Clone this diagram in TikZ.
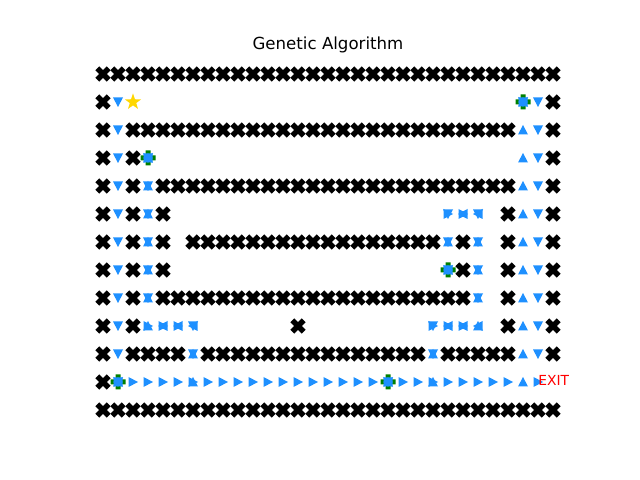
\documentclass[tikz,border=0pt]{standalone}
\usepackage{fontspec}
\setmainfont{DejaVu Sans}
\definecolor{mblue}{HTML}{1E90FF}
\definecolor{mgreen}{HTML}{008000}
\definecolor{mgold}{HTML}{FFD700}
\tikzset{
  wall/.pic={\fill[black,scale=3.8] (-1,-2)--(0,-1)--(1,-2)--(2,-1)--(1,0)--(2,1)--(1,2)--(0,1)--(-1,2)--(-2,1)--(-1,0)--(-2,-1)--cycle;},
  up/.pic={\fill[mblue] (0,-5)--(5,4.5)--(-5,4.5)--cycle;},
  dn/.pic={\fill[mblue] (0,5)--(5,-4.5)--(-5,-4.5)--cycle;},
  rt/.pic={\fill[mblue] (5,0)--(-4.5,-5)--(-4.5,5)--cycle;},
  lf/.pic={\fill[mblue] (-5,0)--(4.5,-5)--(4.5,5)--cycle;},
  gplus/.pic={\fill[mgreen,scale=2.5] (-1,-3)--(1,-3)--(1,-1)--(3,-1)--(3,1)--(1,1)--(1,3)--(-1,3)--(-1,1)--(-3,1)--(-3,-1)--(-1,-1)--cycle;
    \pic{up}; \pic{dn}; \pic{lf}; \pic{rt};},
  gstar/.pic={\fill[mgold,yscale=-1] (90:8.5)--(126:3.4)--(162:8.5)--(198:3.4)--(234:8.5)--(270:3.4)--(306:8.5)--(342:3.4)--(18:8.5)--(54:3.4)--cycle;},
  title/.style={font=\fontsize{12}{14}\selectfont, anchor=base, inner sep=0pt},
  exitlbl/.style={font=\fontsize{10}{12}\selectfont, text=red, anchor=base west, inner sep=0pt}
}
\begin{document}
\begin{tikzpicture}[x=0.01in,y=-0.01in]
\useasboundingbox (0,0) rectangle (640,480);
\node[title] (t) at (328,49.3) {Genetic Algorithm};
% walls
\foreach \r/\a/\b in {0/0/30, 1/0/0, 1/30/30, 2/0/0, 2/2/27, 2/30/30, 3/0/0, 3/2/2, 3/30/30,
  4/0/0, 4/2/2, 4/4/27, 4/30/30, 5/0/0, 5/2/2, 5/4/4, 5/27/27, 5/30/30,
  6/0/0, 6/2/2, 6/4/4, 6/6/22, 6/24/24, 6/27/27, 6/30/30,
  7/0/0, 7/2/2, 7/4/4, 7/24/24, 7/27/27, 7/30/30,
  8/0/0, 8/2/2, 8/4/24, 8/27/27, 8/30/30,
  9/0/0, 9/2/2, 9/13/13, 9/27/27, 9/30/30,
  10/0/0, 10/2/5, 10/7/21, 10/23/27, 10/30/30, 11/0/0, 12/0/30}
  {\foreach \c in {\a,...,\b} \pic at ({103+15*\c},{74+28*\r}) {wall};}
% goals (green plus)
\foreach \r/\c in {1/28, 3/3, 7/23, 11/1, 11/19}
  \pic at ({103+15*\c},{74+28*\r}) {gplus};
% down column 1 and 29
\foreach \r in {1,...,10} {
  \pic at ({103+15*1},{74+28*\r}) {dn};
  \pic at ({103+15*29},{74+28*\r}) {dn};
}
\foreach \r in {2,...,11} \pic at ({103+15*28},{74+28*\r}) {up};
% bottom row rights
\foreach \c in {2,...,18,20,21,22,23,24,25,26,27,29} \pic at ({103+15*\c},{74+28*11}) {rt};
% combined markers
\foreach \r/\c/\k in {4/3/up,4/3/dn,5/3/up,5/3/dn,6/3/up,6/3/dn,7/3/up,7/3/dn,8/3/up,8/3/dn,
  9/3/rt,9/3/up,9/4/lf,9/4/rt,9/5/lf,9/5/rt,9/6/lf,9/6/dn,10/6/up,10/6/dn,11/6/up,
  5/23/rt,5/23/dn,5/24/lf,5/24/rt,5/25/lf,5/25/dn,6/23/up,6/23/dn,6/25/up,6/25/dn,
  7/25/up,7/25/dn,8/25/up,8/25/dn,9/22/rt,9/22/dn,9/23/lf,9/23/rt,9/24/lf,9/24/rt,
  9/25/lf,9/25/up,10/22/up,10/22/dn,11/22/up}
  \pic at ({103+15*\c},{74+28*\r}) {\k};
\pic at (133,102) {gstar};
\node[exitlbl] (exit) at (538,386) {EXIT};
\end{tikzpicture}
\end{document}
